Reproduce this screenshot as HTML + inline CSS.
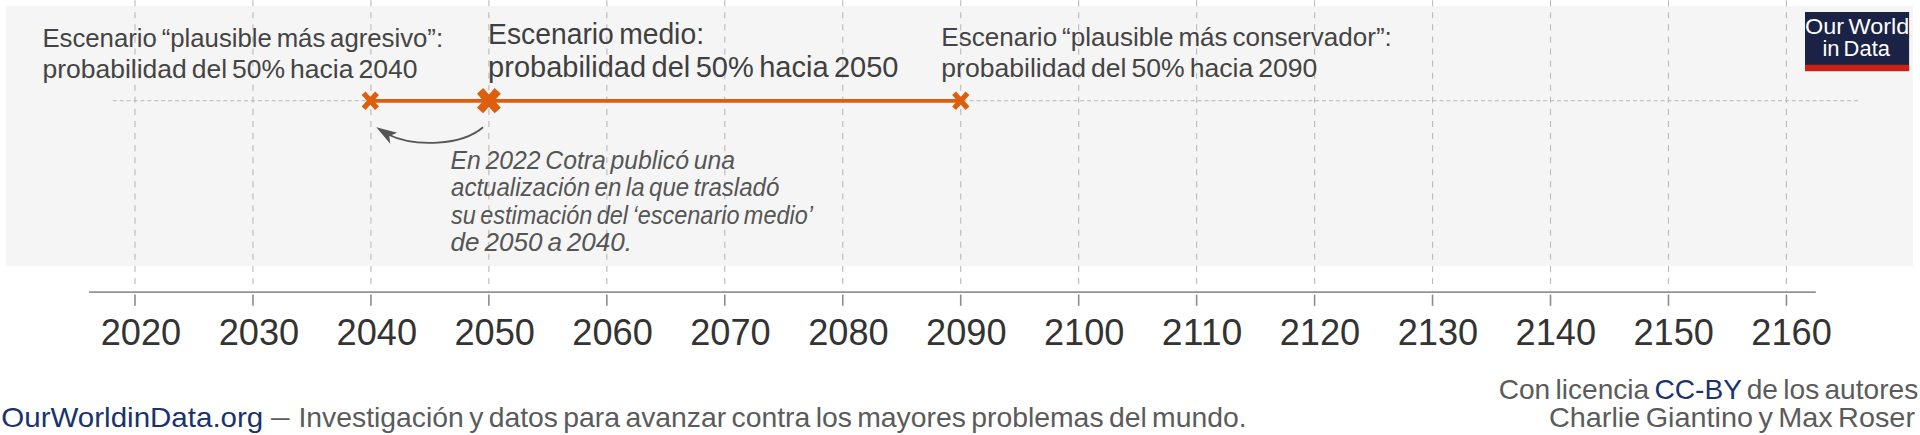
<!DOCTYPE html>
<html lang="es">
<head>
<meta charset="utf-8">
<title>Escenarios</title>
<style>
html,body{margin:0;padding:0;background:#fff;}
body{width:1920px;height:435px;overflow:hidden;}
svg{display:block;}
text{font-family:"Liberation Sans",sans-serif;word-spacing:-0.09em;}
.lbl{fill:#444;font-size:25.6px;}
.mid{fill:#3f3f3f;font-size:30px;}
.ann{fill:#555;font-size:26.5px;font-style:italic;}
.ax{fill:#333;font-size:36px;}
.ft{fill:#5b5b5b;font-size:28px;}
.bl{fill:#1a3370;}
.logo{fill:#fff;font-size:22px;}
</style>
</head>
<body>
<svg width="1920" height="435" viewBox="0 0 1920 435">
<rect x="0" y="0" width="1920" height="435" fill="#fff"/>
<rect x="6" y="6" width="1907" height="260" fill="#f5f5f5"/>
<g stroke="#bcbcbc" stroke-width="1.15" stroke-dasharray="6.04 6.04" fill="none">
<path d="M135 0.15V290.3"/><path d="M252.96 0.15V290.3"/><path d="M370.92 0.15V290.3"/><path d="M488.88 0.15V290.3"/><path d="M606.84 0.15V290.3"/><path d="M724.8 0.15V290.3"/><path d="M842.76 0.15V290.3"/><path d="M960.72 0.15V290.3"/><path d="M1078.68 0.15V290.3"/><path d="M1196.64 0.15V290.3"/><path d="M1314.6 0.15V290.3"/><path d="M1432.56 0.15V290.3"/><path d="M1550.52 0.15V290.3"/><path d="M1668.48 0.15V290.3"/><path d="M1786.44 0.15V290.3"/>
</g>
<path d="M112.8 100.7H1858" stroke="#b6b6b6" stroke-width="1.15" stroke-dasharray="3.95 2.96" fill="none"/>
<path d="M370.5 100.8H960.8" stroke="#dd5f0d" stroke-width="3.7" fill="none"/>
<g stroke="#dd5f0d" fill="none">
<path d="M363.6 93.25L377 108.35M377 93.25L363.6 108.35" stroke-width="5.2"/>
<path d="M954.1 93.25L967.5 108.35M967.5 93.25L954.1 108.35" stroke-width="5.2"/>
<path d="M480.06 90.9L497.74 110.5M497.74 90.9L480.06 110.5" stroke-width="8.3"/>
</g>
<path d="M483 127.2C462 145.5 415 147.5 388 134.5" stroke="#555" stroke-width="1.8" fill="none"/>
<path d="M376.3 127.2L397.3 132.8L389.3 136L390.2 143.7Z" fill="#555"/>
<text class="lbl" x="42.4" y="47" textLength="400.7" lengthAdjust="spacingAndGlyphs">Escenario “plausible más agresivo”:</text>
<text class="lbl" x="42.4" y="77.8" textLength="375" lengthAdjust="spacingAndGlyphs">probabilidad del 50% hacia 2040</text>
<text class="mid" x="488.1" y="43.85" textLength="215.9" lengthAdjust="spacingAndGlyphs">Escenario medio:</text>
<text class="mid" x="488.1" y="77.3" textLength="410.4" lengthAdjust="spacingAndGlyphs">probabilidad del 50% hacia 2050</text>
<text class="lbl" x="941.3" y="46.1" textLength="450.5" lengthAdjust="spacingAndGlyphs">Escenario “plausible más conservador”:</text>
<text class="lbl" x="941.3" y="76.8" textLength="376" lengthAdjust="spacingAndGlyphs">probabilidad del 50% hacia 2090</text>
<text class="ann" x="450.6" y="168.7" textLength="284.4" lengthAdjust="spacingAndGlyphs">En 2022 Cotra publicó una</text>
<text class="ann" x="451" y="196" textLength="328.3" lengthAdjust="spacingAndGlyphs">actualización en la que trasladó</text>
<text class="ann" x="451" y="223.5" textLength="362" lengthAdjust="spacingAndGlyphs">su estimación del ‘escenario medio’</text>
<text class="ann" x="450.6" y="251.2" textLength="181.5" lengthAdjust="spacingAndGlyphs">de 2050 a 2040.</text>
<path d="M89 292.1H1815.8" stroke="#939393" stroke-width="1.7" fill="none"/>
<g stroke="#8c8c8c" stroke-width="1.6" fill="none">
<path d="M135 294.6V305.8"/><path d="M252.96 294.6V305.8"/><path d="M370.92 294.6V305.8"/><path d="M488.88 294.6V305.8"/><path d="M606.84 294.6V305.8"/><path d="M724.8 294.6V305.8"/><path d="M842.76 294.6V305.8"/><path d="M960.72 294.6V305.8"/><path d="M1078.68 294.6V305.8"/><path d="M1196.64 294.6V305.8"/><path d="M1314.6 294.6V305.8"/><path d="M1432.56 294.6V305.8"/><path d="M1550.52 294.6V305.8"/><path d="M1668.48 294.6V305.8"/><path d="M1786.44 294.6V305.8"/>
</g>
<g class="ax" text-anchor="middle">
<text x="141" y="344.8" textLength="80.5" lengthAdjust="spacingAndGlyphs">2020</text><text x="258.9" y="344.8" textLength="80.5" lengthAdjust="spacingAndGlyphs">2030</text><text x="376.8" y="344.8" textLength="80.5" lengthAdjust="spacingAndGlyphs">2040</text><text x="494.7" y="344.8" textLength="80.5" lengthAdjust="spacingAndGlyphs">2050</text><text x="612.6" y="344.8" textLength="80.5" lengthAdjust="spacingAndGlyphs">2060</text><text x="730.5" y="344.8" textLength="80.5" lengthAdjust="spacingAndGlyphs">2070</text><text x="848.4" y="344.8" textLength="80.5" lengthAdjust="spacingAndGlyphs">2080</text><text x="966.3" y="344.8" textLength="80.5" lengthAdjust="spacingAndGlyphs">2090</text><text x="1084.2" y="344.8" textLength="80.5" lengthAdjust="spacingAndGlyphs">2100</text><text x="1202.1" y="344.8" textLength="80.5" lengthAdjust="spacingAndGlyphs">2110</text><text x="1320" y="344.8" textLength="80.5" lengthAdjust="spacingAndGlyphs">2120</text><text x="1437.9" y="344.8" textLength="80.5" lengthAdjust="spacingAndGlyphs">2130</text><text x="1555.8" y="344.8" textLength="80.5" lengthAdjust="spacingAndGlyphs">2140</text><text x="1673.7" y="344.8" textLength="80.5" lengthAdjust="spacingAndGlyphs">2150</text><text x="1791.6" y="344.8" textLength="80.5" lengthAdjust="spacingAndGlyphs">2160</text>
</g>
<text class="ft bl" x="1.3" y="426.5" textLength="262" lengthAdjust="spacingAndGlyphs">OurWorldinData.org</text>
<text class="ft" x="271" y="426.3" textLength="18.5" lengthAdjust="spacingAndGlyphs">—</text>
<text class="ft" x="298.4" y="426.5" textLength="948.2" lengthAdjust="spacingAndGlyphs">Investigación y datos para avanzar contra los mayores problemas del mundo.</text>
<text class="ft" x="1498.7" y="398.6" textLength="419.5" lengthAdjust="spacingAndGlyphs">Con licencia <tspan class="bl">CC-BY</tspan> de los autores</text>
<text class="ft" x="1549" y="427.3" textLength="366" lengthAdjust="spacingAndGlyphs">Charlie Giantino y Max Roser</text>
<rect x="1805" y="12" width="104.1" height="59.1" fill="#1a2346"/>
<rect x="1805" y="64.8" width="104.1" height="6.3" fill="#ce2016"/>
<text class="logo" x="1857.2" y="34.2" textLength="104.3" lengthAdjust="spacingAndGlyphs" text-anchor="middle">Our World</text>
<text class="logo" x="1856.2" y="56.4" textLength="67.5" lengthAdjust="spacingAndGlyphs" text-anchor="middle">in Data</text>
</svg>
</body>
</html>
